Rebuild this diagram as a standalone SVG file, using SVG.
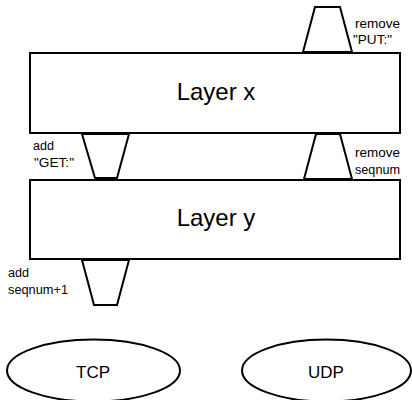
<svg xmlns="http://www.w3.org/2000/svg" width="412" height="400" viewBox="0 0 412 400">
<style>
.shape{fill:#fff;stroke:#000;stroke-width:2}
.conn{fill:none;stroke:#000;stroke-width:2;stroke-linejoin:miter}
.big{font-family:"Liberation Sans",Arial,sans-serif;font-size:24px;fill:#000;text-anchor:middle}
.mid{font-family:"Liberation Sans",Arial,sans-serif;font-size:17px;fill:#000;text-anchor:middle}
.small{font-family:"Liberation Sans",Arial,sans-serif;font-size:12.5px;fill:#000}
</style>
<rect width="412" height="400" fill="#fff"/>
<g id="connectors">
<polygon class="conn" points="315,7 340,7 352,52 303,52"/>
<polygon class="conn" points="82,134 129,134 117,178 95,178"/>
<polygon class="conn" points="316,134 340,134 352,179 304,179"/>
<polygon class="conn" points="82,260 129,260 117,305 94,305"/>
</g>
<g id="layer-x">
<rect class="shape" x="30" y="53" width="370" height="80"/>
<text class="big" x="216" y="100">Layer x</text>
</g>
<g id="layer-y">
<rect class="shape" x="30" y="180" width="370" height="79"/>
<text class="big" x="216" y="226">Layer y</text>
</g>
<g id="tcp">
<ellipse class="shape" cx="93.5" cy="370.5" rx="86.5" ry="31"/>
<text class="mid" x="93" y="378">TCP</text>
</g>
<g id="udp">
<ellipse class="shape" cx="326.5" cy="370.5" rx="84.5" ry="31"/>
<text class="mid" x="326" y="378">UDP</text>
</g>
<g id="labels">
<text class="small" x="355" y="28" textLength="45" lengthAdjust="spacingAndGlyphs">remove</text>
<text class="small" x="353" y="44" textLength="39" lengthAdjust="spacingAndGlyphs">"PUT:"</text>
<text class="small" x="33" y="150" textLength="21" lengthAdjust="spacingAndGlyphs">add</text>
<text class="small" x="34" y="167" textLength="40" lengthAdjust="spacingAndGlyphs">"GET:"</text>
<text class="small" x="355" y="157" textLength="45" lengthAdjust="spacingAndGlyphs">remove</text>
<text class="small" x="355" y="174" textLength="45" lengthAdjust="spacingAndGlyphs">seqnum</text>
<text class="small" x="8" y="277" textLength="21" lengthAdjust="spacingAndGlyphs">add</text>
<text class="small" x="8" y="294" textLength="60" lengthAdjust="spacingAndGlyphs">seqnum+1</text>
</g>
</svg>
